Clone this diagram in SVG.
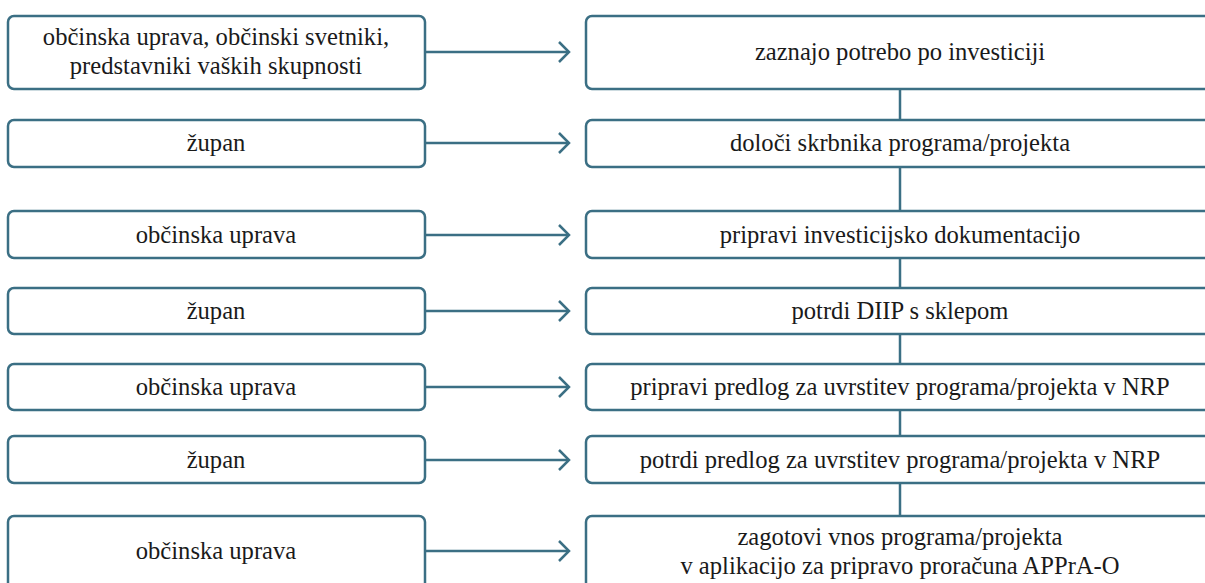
<svg xmlns="http://www.w3.org/2000/svg" width="1205" height="583" viewBox="0 0 1205 583">
<style>
.b{fill:#fff;stroke:#3b6f84;stroke-width:2.5}
.t{font-size:24.6px;fill:#1a1a1a;text-anchor:middle}
.c{stroke:#3b6f84;stroke-width:2.5;fill:none}
</style>
<defs>
<marker id="ah" markerWidth="14" markerHeight="22" refX="12" refY="11" orient="auto" markerUnits="userSpaceOnUse">
<path d="M2,1 L12,11 L2,21" fill="none" stroke="#3b6f84" stroke-width="2.5"/>
</marker>
</defs>
<rect width="1205" height="583" fill="#fff"/>
<g id="connectors">
<line class="c" x1="425" y1="52" x2="569" y2="52" marker-end="url(#ah)"/>
<line class="c" x1="425" y1="143" x2="569" y2="143" marker-end="url(#ah)"/>
<line class="c" x1="425" y1="235" x2="569" y2="235" marker-end="url(#ah)"/>
<line class="c" x1="425" y1="311" x2="569" y2="311" marker-end="url(#ah)"/>
<line class="c" x1="425" y1="387" x2="569" y2="387" marker-end="url(#ah)"/>
<line class="c" x1="425" y1="460" x2="569" y2="460" marker-end="url(#ah)"/>
<line class="c" x1="425" y1="551" x2="569" y2="551" marker-end="url(#ah)"/>
<line class="c" x1="900" y1="89" x2="900" y2="120"/>
<line class="c" x1="900" y1="167" x2="900" y2="211"/>
<line class="c" x1="900" y1="258" x2="900" y2="288"/>
<line class="c" x1="900" y1="334" x2="900" y2="364"/>
<line class="c" x1="900" y1="410" x2="900" y2="436"/>
<line class="c" x1="900" y1="483" x2="900" y2="516"/>
</g>
<g font-family="'Liberation Serif', 'Times New Roman', serif">
<g id="l1"><rect class="b" x="8" y="16" width="417" height="73" rx="6"/><text class="t" x="216" y="45">občinska uprava, občinski svetniki,</text><text class="t" x="216" y="74">predstavniki vaških skupnosti</text></g>
<g id="r1"><rect class="b" x="586" y="16" width="640" height="73" rx="6"/><text class="t" x="900" y="60">zaznajo potrebo po investiciji</text></g>
<g id="l2"><rect class="b" x="8" y="120" width="417" height="47" rx="6"/><text class="t" x="216" y="151">župan</text></g>
<g id="r2"><rect class="b" x="586" y="120" width="640" height="47" rx="6"/><text class="t" x="900" y="151">določi skrbnika programa/projekta</text></g>
<g id="l3"><rect class="b" x="8" y="211" width="417" height="47" rx="6"/><text class="t" x="216" y="243">občinska uprava</text></g>
<g id="r3"><rect class="b" x="586" y="211" width="640" height="47" rx="6"/><text class="t" x="900" y="243">pripravi investicijsko dokumentacijo</text></g>
<g id="l4"><rect class="b" x="8" y="288" width="417" height="46" rx="6"/><text class="t" x="216" y="319">župan</text></g>
<g id="r4"><rect class="b" x="586" y="288" width="640" height="46" rx="6"/><text class="t" x="900" y="319">potrdi DIIP s sklepom</text></g>
<g id="l5"><rect class="b" x="8" y="364" width="417" height="46" rx="6"/><text class="t" x="216" y="395">občinska uprava</text></g>
<g id="r5"><rect class="b" x="586" y="364" width="640" height="46" rx="6"/><text class="t" x="900" y="395">pripravi predlog za uvrstitev programa/projekta v NRP</text></g>
<g id="l6"><rect class="b" x="8" y="436" width="417" height="47" rx="6"/><text class="t" x="216" y="468">župan</text></g>
<g id="r6"><rect class="b" x="586" y="436" width="640" height="47" rx="6"/><text class="t" x="900" y="468">potrdi predlog za uvrstitev programa/projekta v NRP</text></g>
<g id="l7"><rect class="b" x="8" y="516" width="417" height="80" rx="6"/><text class="t" x="216" y="559">občinska uprava</text></g>
<g id="r7"><rect class="b" x="586" y="516" width="640" height="80" rx="6"/><text class="t" x="900" y="545">zagotovi vnos programa/projekta</text><text class="t" x="900" y="574">v aplikacijo za pripravo proračuna APPrA-O</text></g>
</g>
</svg>
